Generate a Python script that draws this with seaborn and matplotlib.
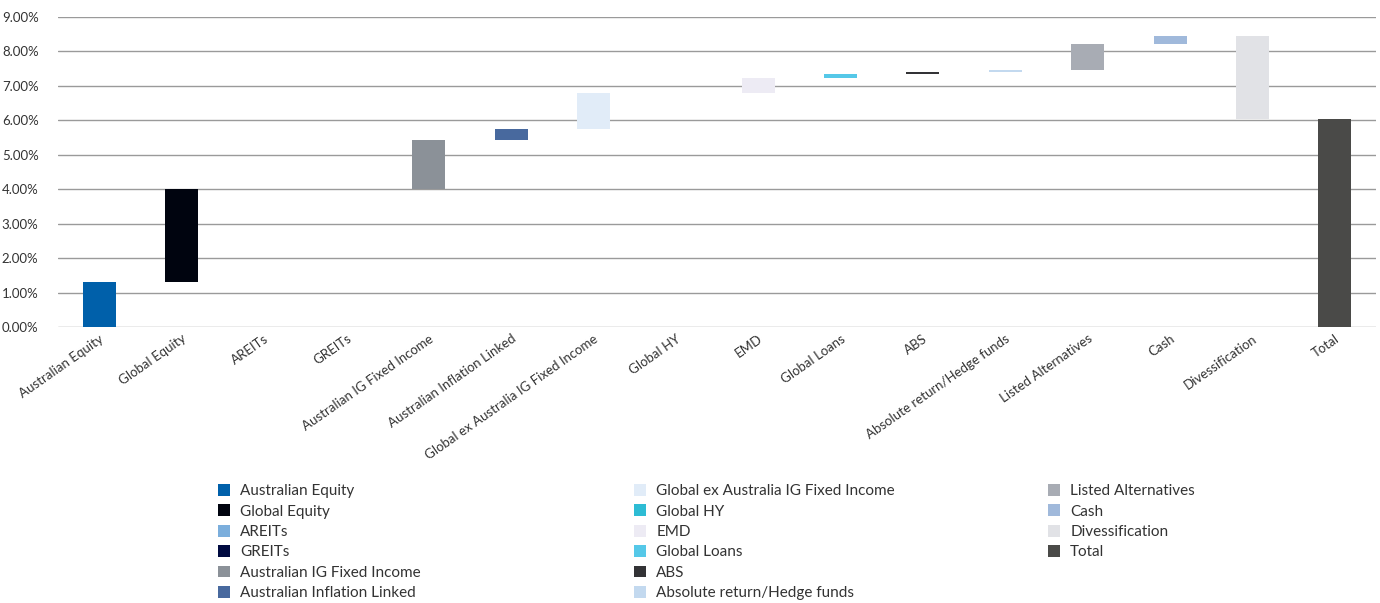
import matplotlib
matplotlib.use("Agg")
import matplotlib.pyplot as plt
from matplotlib.patches import Patch
import numpy as np
import pandas as pd
import seaborn as sns

categories = ["Australian Equity", "Global Equity", "AREITs", "GREITs",
              "Australian IG Fixed Income", "Australian Inflation Linked",
              "Global ex Australia IG Fixed Income", "Global HY", "EMD",
              "Global Loans", "ABS", "Absolute return/Hedge funds",
              "Listed Alternatives", "Cash", "Divessification", "Total"]
# contribution of each step (%); last one is the total
contributions = [1.31, 2.70, 0.0, 0.0, 1.42, 0.32, 1.04, 0.0, 0.44,
                 0.11, 0.06, 0.06, 0.77, 0.23, -2.42, 6.04]
colors = ["#0060AA", "#00040F", "#7BAEDC", "#000A40", "#8B9198", "#48699E",
          "#E1ECF8", "#2DBCD4", "#EDEBF4", "#55C8E8", "#333336", "#C3D9EF",
          "#A8ACB4", "#A0B9DB", "#E1E2E6", "#4A4A48"]
yticks = [0, 1, 2, 3, 4, 5, 6, 7, 8, 9]

sns.set_theme(style="white")
plt.rcParams["font.family"] = ["Lato", "DejaVu Sans"]

# bottoms of the floating bars (running total before each step)
steps = np.array(contributions[:-1])
bottoms = list(np.concatenate([[0], np.cumsum(steps)[:-1]])) + [0.0]

df = pd.DataFrame({"category": categories, "value": contributions})

fig = plt.figure(figsize=(13.8, 6.03), dpi=100)
ax = fig.add_axes([58 / 1380, 1 - 327 / 603, (1376 - 58) / 1380, (327 - 17) / 603])

sns.barplot(data=df, x="category", y="value", hue="category",
            palette=dict(zip(categories, colors)), order=categories,
            hue_order=categories, width=0.4, legend=False, ax=ax,
            saturation=1, edgecolor="none", linewidth=0, zorder=3)

for patch, b in zip(ax.patches, bottoms):
    patch.set_y(b)

ax.set_ylim(0, 9)
ax.set_yticks(yticks)
ax.set_yticklabels([f"{t:.2f}%" for t in yticks], fontsize=9.5, color="#333333")
ax.yaxis.grid(True, color="#9a9a9a", linewidth=1.0, zorder=0)
ax.xaxis.grid(False)
for s in ax.spines.values():
    s.set_visible(False)
ax.tick_params(axis="y", length=0, pad=14)
ax.tick_params(axis="x", length=0, pad=4)
ax.set_xlabel("")
ax.set_ylabel("")
ax.set_xticks(range(len(categories)))
ax.set_xticklabels(categories, rotation=35, ha="right", rotation_mode="anchor",
                   fontsize=9.5, color="#333333")
ax.set_xlim(-0.5, len(categories) - 0.5)

handles = [Patch(facecolor=c, edgecolor="none", label=l) for c, l in zip(colors, categories)]
col_x = [218, 634, 1048]
groups = [handles[0:6], handles[6:12], handles[12:16]]
for x, g in zip(col_x, groups):
    fig.legend(handles=g, loc="upper left", bbox_to_anchor=(x / 1380, 1 - 484 / 603),
               frameon=False, ncol=1, fontsize=11, labelspacing=0.41,
               handlelength=0.8, handleheight=0.8, handletextpad=0.65,
               borderpad=0, borderaxespad=0, labelcolor="#333333")

fig.savefig("out.png", dpi=100)
